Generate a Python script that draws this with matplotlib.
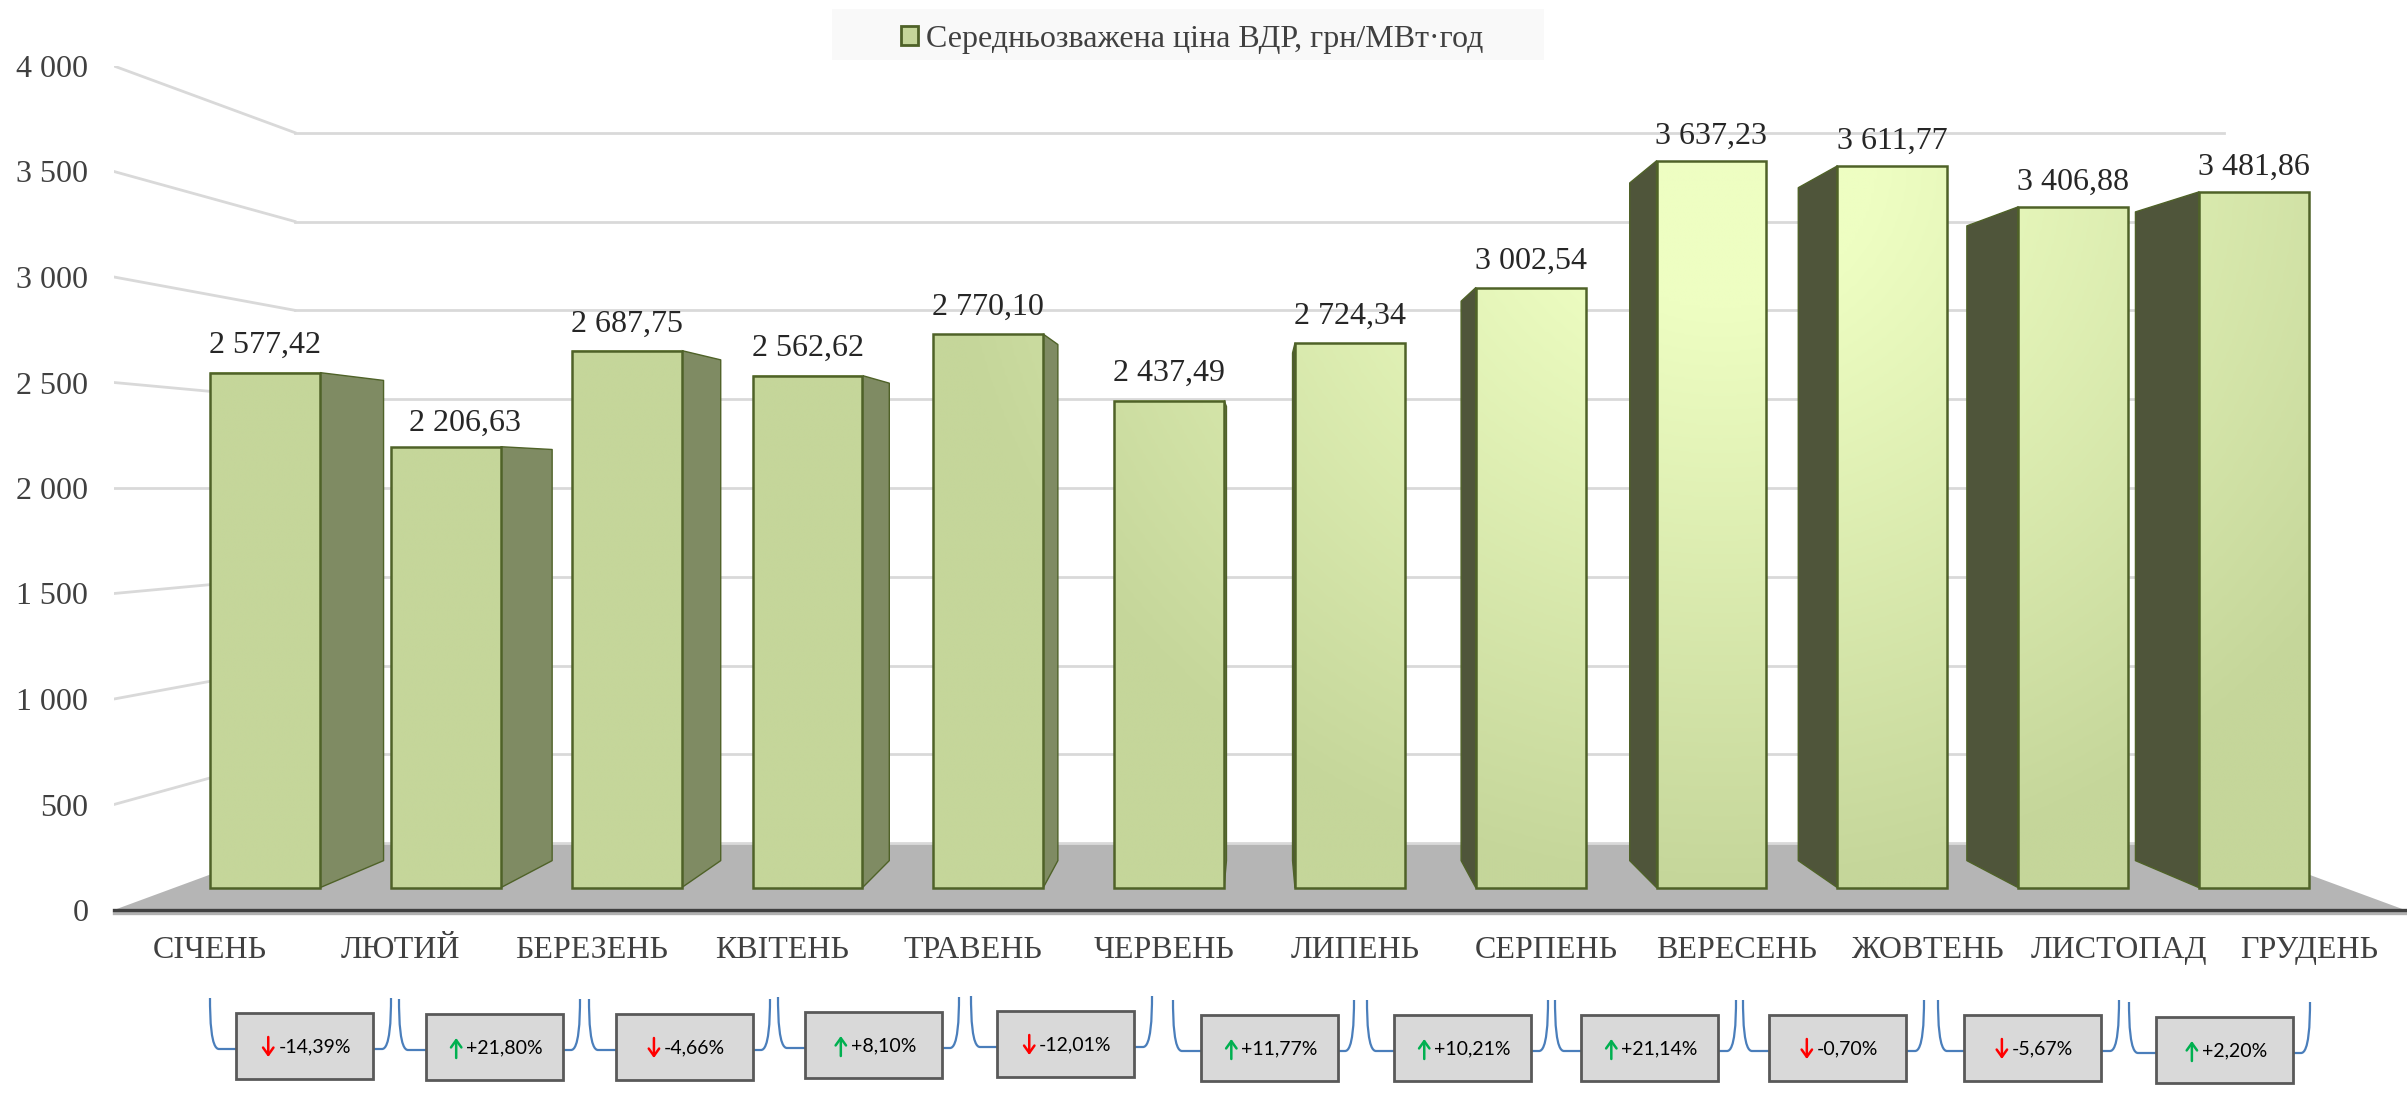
import numpy as np
import matplotlib
matplotlib.use('Agg')
import matplotlib.pyplot as plt
import matplotlib.patheffects as pe
from matplotlib.patches import Patch, Polygon, Rectangle, PathPatch
from matplotlib.path import Path
from matplotlib.colors import LinearSegmentedColormap

# дані
months = ['СІЧЕНЬ', 'ЛЮТИЙ', 'БЕРЕЗЕНЬ', 'КВІТЕНЬ', 'ТРАВЕНЬ', 'ЧЕРВЕНЬ',
          'ЛИПЕНЬ', 'СЕРПЕНЬ', 'ВЕРЕСЕНЬ', 'ЖОВТЕНЬ', 'ЛИСТОПАД', 'ГРУДЕНЬ']
prices = [2577.42, 2206.63, 2687.75, 2562.62, 2770.10, 2437.49,
          2724.34, 3002.54, 3637.23, 3611.77, 3406.88, 3481.86]
price_labels = ['2 577,42', '2 206,63', '2 687,75', '2 562,62', '2 770,10', '2 437,49',
                '2 724,34', '3 002,54', '3 637,23', '3 611,77', '3 406,88', '3 481,86']
y_ticks = [0, 500, 1000, 1500, 2000, 2500, 3000, 3500, 4000]
y_tick_labels = ['0', '500', '1 000', '1 500', '2 000', '2 500', '3 000', '3 500', '4 000']
changes = ['-14,39%', '+21,80%', '-4,66%', '+8,10%', '-12,01%', '+11,77%',
           '+10,21%', '+21,14%', '-0,70%', '-5,67%', '+2,20%']
legend_label = 'Середньозважена ціна ВДР, грн/МВт·год'

# положення підписів-виносок у пікселях
brace_left = [210, 399, 589, 778, 971, 1173, 1367, 1555, 1743, 1938, 2129]
box_left = [236, 426, 616, 805, 997, 1201, 1394, 1581, 1769, 1964, 2156]
box_top = [1013, 1014, 1014, 1012, 1011, 1015, 1015, 1015, 1015, 1015, 1017]

W, H = 2407, 1095
serif = 'Liberation Serif'
grid_c = '#D9D9D9'
edge_c = '#4F6228'
vp_x, vp_y = 6, 2000  # точка сходу перспективи
s_back, s_front, s_bar_back = 0.842, 0.947, 0.883
bar_w = 0.608


def project(x, v, s):
    return vp_x + s * (x - vp_x), vp_y + s * (v - vp_y)


fig = plt.figure(figsize=(W / 100, H / 100), dpi=100)
ax = fig.add_axes([114 / W, (H - 910) / H, 2291 / W, 844 / H])
ax.set_xlim(0, 12)
ax.set_ylim(0, 4000)
for sp in ['top', 'left', 'right', 'bottom']:
    ax.spines[sp].set_visible(False)

# підлога і сітка
ax.add_patch(Polygon([project(0, 0, 1), project(12, 0, 1), project(12, 0, s_back), project(0, 0, s_back)],
                     fc='#B5B5B5', ec='none', zorder=1))
for v in y_ticks:
    x0, y0 = project(0, v, s_back)
    x1, y1 = project(12, v, s_back)
    fx, fy = project(0, v, 1)
    ax.plot([x0, x1], [y0, y1], color=grid_c, lw=2, zorder=1.5)
    if v > 0:
        ax.plot([fx, x0], [fy, y0], color=grid_c, lw=2, zorder=1.5)

# вісь
ax.plot([0, 12], [0, 0], color='#404040', lw=2.4, zorder=6, clip_on=False,
        path_effects=[pe.SimpleLineShadow(offset=(0, -2), shadow_color='#909090', alpha=0.7), pe.Normal()])

cmap = LinearSegmentedColormap.from_list('bar', ['#C5D69A', '#EEFEC2'])
order = sorted(range(12), key=lambda k: -abs(k + 0.5 - vp_x))
for i in order:
    val = prices[i]
    xl, xr = i + 0.5 - bar_w / 2, i + 0.5 + bar_w / 2
    # бічна грань
    if xr < vp_x:
        xs, side_c = xr, '#7F8B63'
    else:
        xs, side_c = xl, '#4F553A'
    ax.add_patch(Polygon([project(xs, 0, s_front), project(xs, val, s_front),
                          project(xs, val, s_bar_back), project(xs, 0, s_bar_back)],
                         fc=side_c, ec=edge_c, lw=1.0, joinstyle='round', zorder=3))
    # передня грань з градієнтом
    x0, y0 = project(xl, 0, s_front)
    x1, y1 = project(xr, val, s_front)
    gx, gy = np.meshgrid(np.linspace(x0, x1, 40), np.linspace(y0, y1, 200))
    d = np.sqrt(((gx - 8.41) / 4.09) ** 2 + ((gy - 3554) / 3460) ** 2)
    ax.imshow(np.clip((1 - d) * 1.25, 0, 1), origin='lower', extent=[x0, x1, y0, y1], cmap=cmap,
              vmin=0, vmax=1, aspect='auto', zorder=4, interpolation='bilinear')
    ax.add_patch(Rectangle((x0, y0), x1 - x0, y1 - y0, fc='none', ec=edge_c, lw=1.8, zorder=5))
    # підпис лютого в оригіналі зсунутий
    off = (14, 16.5) if i == 1 else (0, 19.5 - max(val - 2500, 0) * 0.0017)
    ax.annotate(price_labels[i], xy=(0.5 * (x0 + x1), y1), xytext=off, textcoords='offset points',
                ha='center', va='center', fontsize=23, family=serif, color='#262626', zorder=7)

ax.set_xlim(0, 12)
ax.set_ylim(0, 4000)
ax.set_xticks(np.arange(12) + 0.5)
ax.set_xticklabels(months, family=serif, fontsize=23, color='#404040')
ax.set_yticks(y_ticks)
ax.set_yticklabels(y_tick_labels, family=serif, fontsize=23, color='#404040')
ax.tick_params(axis='x', length=0, pad=19)
ax.tick_params(axis='y', length=0, pad=18.5)

# верхній шар у пікселях: легенда і виноски
top = fig.add_axes([0, 0, 1, 1], facecolor='none')
top.set_xlim(0, W)
top.set_ylim(H, 0)
top.axis('off')
top.add_patch(Rectangle((832, 9), 712, 51, fc='#F9F9F9', ec='none', zorder=1))
top.legend(handles=[Patch(fc='#C5D69A', ec=edge_c, lw=2, label=legend_label)],
           loc='center', bbox_to_anchor=(1192, 39), bbox_transform=top.transData, frameon=False,
           handlelength=0.55, handleheight=0.55, handletextpad=0.25, borderpad=0,
           prop={'family': serif, 'size': 23}, labelcolor='#404040')

renderer = fig.canvas.get_renderer()
for k, label in enumerate(changes):
    left, bx, by = brace_left[k], box_left[k], box_top[k]
    bw, bh = 137, 66
    right = left + 181
    yt = by - 15
    ym = by + bh / 2 + 3
    verts = [(left, yt), (left, ym - 30), (left + 1, ym), (left + 9, ym), (bx, ym)]
    codes = [Path.MOVETO, Path.CURVE4, Path.CURVE4, Path.CURVE4, Path.LINETO]
    top.add_patch(PathPatch(Path(verts, codes), fc='none', ec='#4A7EBB', lw=1.6, zorder=2))
    verts = [(bx + bw, ym), (right - 9, ym), (right - 1, ym), (right, ym - 30), (right, yt)]
    codes = [Path.MOVETO, Path.LINETO, Path.CURVE4, Path.CURVE4, Path.CURVE4]
    top.add_patch(PathPatch(Path(verts, codes), fc='none', ec='#4A7EBB', lw=1.6, zorder=2))
    top.add_patch(Rectangle((bx, by), bw, bh, fc='#D9D9D9', ec='#595959', lw=2, zorder=3))
    cx, cy = bx + bw / 2, by + bh / 2
    t = top.text(cx + 10, cy + 1, label, ha='center', va='center', family='Lato', fontsize=14,
                 color='black', zorder=4)
    ext = t.get_window_extent(renderer)
    ax_x = ext.x0 - 10
    if label[0] == '-':
        a, b, col = cy - 9, cy + 11, '#FF0000'
    else:
        a, b, col = cy + 11, cy - 9, '#00B050'
    top.annotate('', xy=(ax_x, b), xytext=(ax_x, a),
                 arrowprops=dict(arrowstyle='->,head_length=0.35,head_width=0.25', color=col, lw=1.8,
                                 mutation_scale=15, shrinkA=0, shrinkB=0), zorder=4)

fig.savefig('out.png', dpi=100)
